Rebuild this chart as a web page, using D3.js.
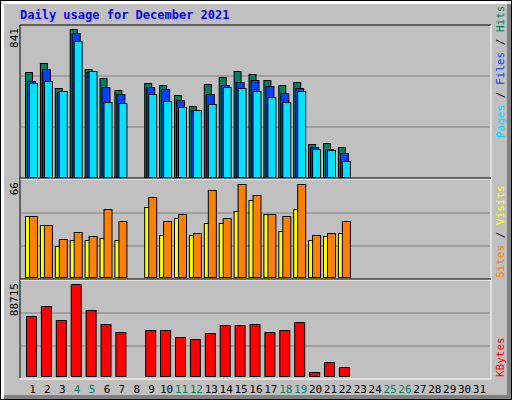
<!DOCTYPE html>
<html><head><meta charset="utf-8">
<script src="https://cdn.jsdelivr.net/npm/d3@7"></script>
<style>body{margin:0}svg{display:block}</style></head>
<body><svg id="c" width="512" height="400"></svg>
<script>
const days = d3.range(1,32).map(String);
const weekend = ["4","5","11","12","18","19","25","26"];
const hits  = [597,648,506,841,614,563,494,null,534,523,466,403,528,568,602,585,551,523,540,188,193,170];
const files = [545,614,483,818,597,511,472,null,511,500,438,381,472,523,540,551,517,477,506,170,159,136];
const pages = [534,545,489,773,602,426,420,null,472,432,398,381,415,511,506,489,455,426,489,159,153,91];
const visits= [43,37,27,32,29,48,40,null,57,40,45,31,62,42,66,58,45,43,66,30,31,40];
const sites = [43,37,22,26,26,28,26,null,50,30,42,30,38,38,47,55,45,33,48,26,29,31];
const kbytes= [57858,67501,54000,88715,63643,50143,42429,null,44357,44357,37607,35679,41465,49179,49179,50143,42429,44357,52072,3857,13500,8679];

const svg = d3.select("#c");
const mono = "'DejaVu Sans Mono', monospace";
svg.append("rect").attr("width",512).attr("height",400).attr("fill","#000");
svg.append("rect").attr("x",1).attr("y",1).attr("width",510).attr("height",398).attr("fill","#fff");
svg.append("rect").attr("x",4).attr("y",4).attr("width",507).attr("height",395).attr("fill","#808080");
svg.append("rect").attr("x",4).attr("y",4).attr("width",503).attr("height",391).attr("fill","#c0c0c0");

svg.append("text").attr("x",20).attr("y",19).attr("font-family",mono).attr("font-weight","bold")
  .attr("font-size",12).attr("fill","#0000ff").text("Daily usage for December 2021");

const x = d3.scaleBand().domain(days).range([25,25+31*14.9]);
const L=20, R=491;
// frame
svg.append("path").attr("d",`M${L},378V25H${R}`).attr("stroke","#000").attr("fill","none");
svg.append("path").attr("d",`M${R},25V379H${L}`).attr("stroke","#fff").attr("fill","none");

const panels = [
  {top:25,bottom:177,max:841,maxY:29,grid:[76,127],sep:179},
  {top:180,bottom:277,max:66,maxY:184,grid:[213,246],sep:280},
  {top:281,bottom:376,max:88715,maxY:284,grid:[313,346]}
];
panels.forEach(p=>{
  p.y = d3.scaleLinear().domain([0,p.max]).range([p.bottom,p.maxY]);
  p.grid.forEach(g=>svg.append("line").attr("x1",L+1).attr("x2",R-1).attr("y1",g).attr("y2",g).attr("stroke","#808080"));
  if(p.sep){
    svg.append("line").attr("x1",L).attr("x2",R).attr("y1",p.sep).attr("y2",p.sep).attr("stroke","#fff");
    svg.append("line").attr("x1",L).attr("x2",R).attr("y1",p.sep-1).attr("y2",p.sep-1).attr("stroke","#000");
  }
});

function bars(data,p,off,w,color){
  const d = data.map((v,i)=>({day:days[i],v})).filter(e=>e.v!=null);
  svg.append("g").selectAll("rect").data(d).join("rect")
    .attr("x",e=>x(e.day)+off+0.5).attr("width",w)
    .attr("y",e=>Math.round(p.y(e.v))+0.5).attr("height",e=>p.bottom-Math.round(p.y(e.v)))
    .attr("fill",color).attr("stroke","#000");
}
bars(hits,panels[0],0,7,"#00805c");
bars(files,panels[0],2,8,"#0040ff");
bars(pages,panels[0],4,8,"#00e0ff");
bars(sites,panels[1],0,6,"#ffff00");
bars(visits,panels[1],4,8,"#ff8000");
bars(kbytes,panels[2],1,10,"#ff0000");

// x labels
svg.append("g").selectAll("text").data(days).join("text")
  .attr("x",d=>x(d)+x.bandwidth()/2).attr("y",393).attr("text-anchor","middle")
  .attr("font-family",mono).attr("font-size",11)
  .attr("fill",d=>weekend.includes(d)?"#00805c":"#000").text(d=>d);

// max labels
const maxLbl=[["841",28],["66",182],["88715",283]];
maxLbl.forEach(([t,y])=>svg.append("text").attr("transform",`translate(18,${y}) rotate(-90)`)
  .attr("text-anchor","end").attr("font-family",mono).attr("font-size",11).attr("fill","#000").text(t));

// right legends
function legend(parts,y){
  const t=svg.append("text").attr("transform",`translate(504,${y}) rotate(-90)`)
    .attr("font-family",mono).attr("font-size",11);
  parts.forEach(([s,c])=>t.append("tspan").attr("fill",c).text(s));
}
legend([["Pages","#00e0ff"],[" / ","#000"],["Files","#0040ff"],[" / ","#000"],["Hits","#00805c"]],138);
legend([["Sites","#ff8000"],[" / ","#000"],["Visits","#ffff00"]],278);
legend([["KBytes","#ff0000"]],377);
</script></body></html>
